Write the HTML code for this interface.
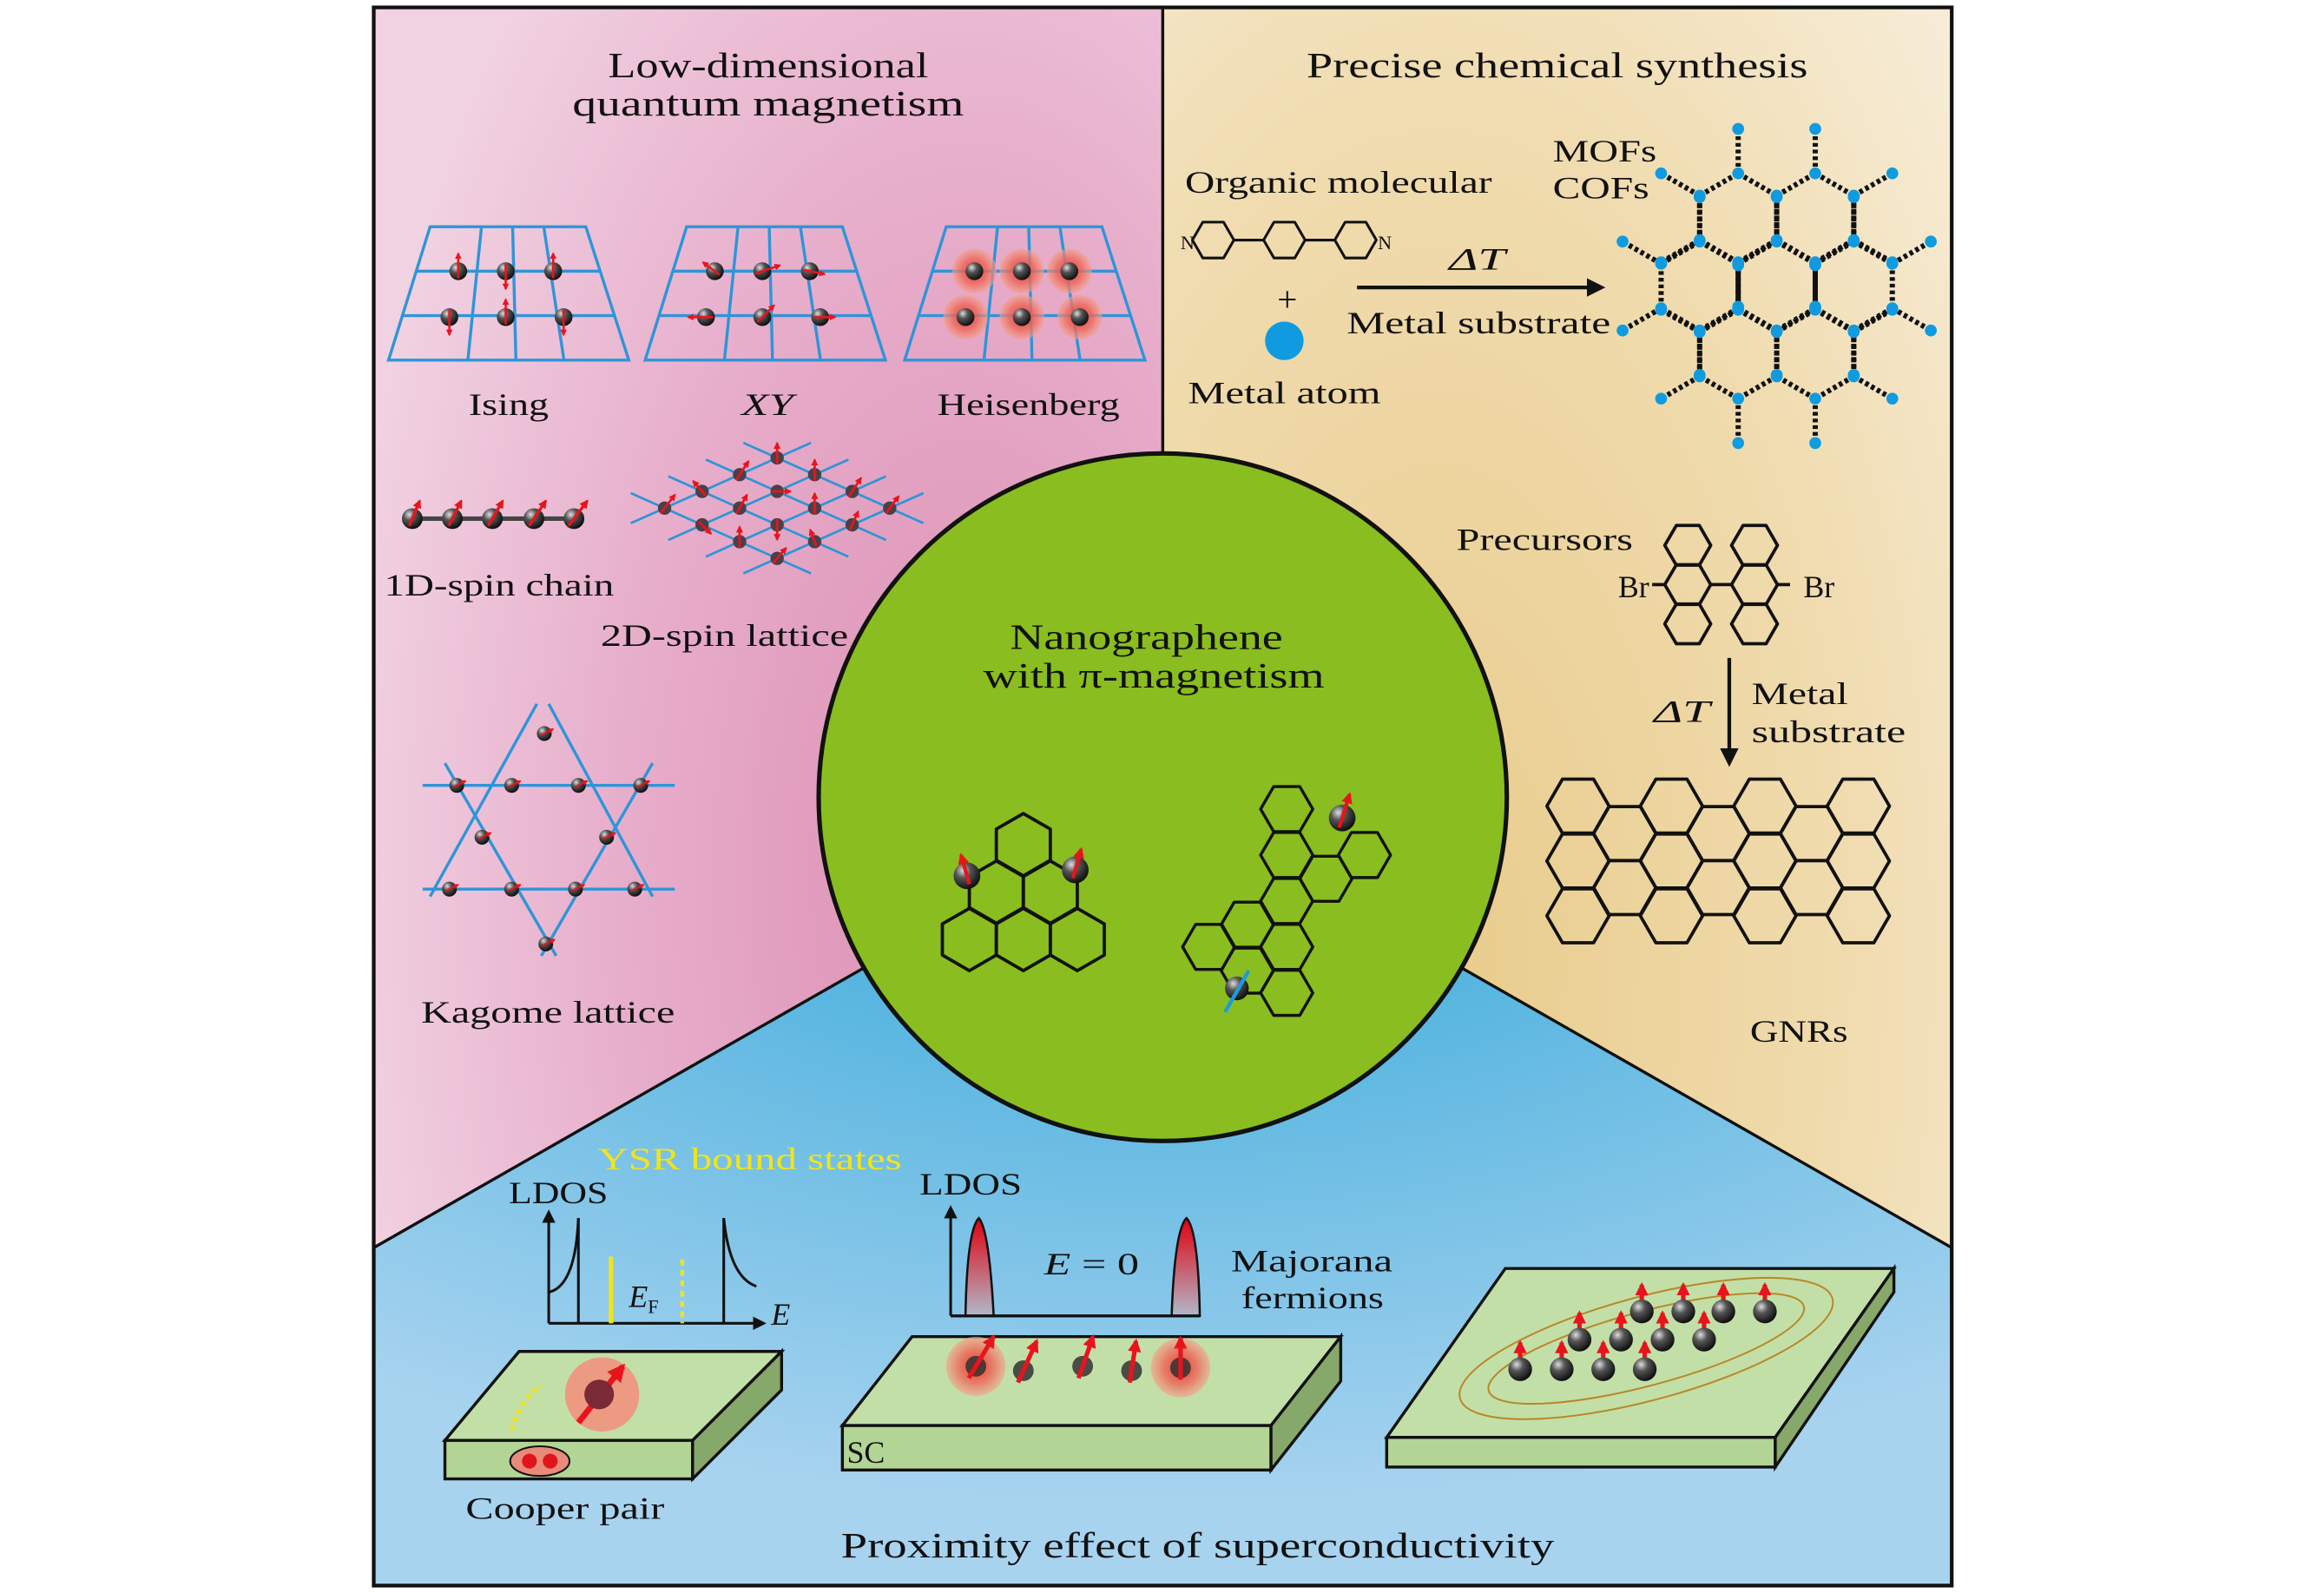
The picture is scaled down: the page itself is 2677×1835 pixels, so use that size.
<!DOCTYPE html>
<html><head><meta charset="utf-8">
<style>
html,body{margin:0;padding:0;background:#fff;width:2677px;height:1835px;overflow:hidden}
svg{display:block}
text{font-family:"Liberation Serif","DejaVu Serif",serif;fill:#111}
</style></head>
<body>
<svg id="s" width="2677" height="1835" viewBox="0 0 1567 1075" preserveAspectRatio="none" xmlns="http://www.w3.org/2000/svg" font-family="Liberation Serif, serif">
<defs>
<radialGradient id="gp" cx="0.75" cy="0.55" r="0.8"><stop offset="0" stop-color="#dd8fb3"/><stop offset="0.55" stop-color="#e7aecb"/><stop offset="1" stop-color="#f1d2e2"/></radialGradient>
<radialGradient id="gb" cx="0.35" cy="0.6" r="0.9"><stop offset="0" stop-color="#e9cc8c"/><stop offset="0.6" stop-color="#f0dcb0"/><stop offset="1" stop-color="#f7eedb"/></radialGradient>
<radialGradient id="gl" cx="0.5" cy="0" r="0.9"><stop offset="0" stop-color="#2aa7d8"/><stop offset="0.5" stop-color="#6cbde4"/><stop offset="1" stop-color="#a8d3ef"/></radialGradient>
<radialGradient id="ball" cx="0.35" cy="0.3" r="0.7"><stop offset="0" stop-color="#ddd"/><stop offset="0.4" stop-color="#555"/><stop offset="1" stop-color="#111"/></radialGradient>
<radialGradient id="glow"><stop offset="0" stop-color="#e33"/><stop offset="0.6" stop-color="#ee6a5a" stop-opacity="0.8"/><stop offset="1" stop-color="#f3a08c" stop-opacity="0.6"/></radialGradient>
<linearGradient id="peak" x1="0" y1="0" x2="0" y2="1"><stop offset="0" stop-color="#e00010"/><stop offset="1" stop-color="#b0b8c8"/></linearGradient>
<marker id="ar" viewBox="0 0 10 10" refX="8" refY="5" markerWidth="3" markerHeight="3" orient="auto"><path d="M0,0L10,5L0,10z" fill="#e8141c"/></marker>
<marker id="ak" viewBox="0 0 10 10" refX="8" refY="5" markerWidth="5" markerHeight="5" orient="auto"><path d="M0,0L10,5L0,10z" fill="#111"/></marker>
</defs>
<rect x="252" y="5" width="532" height="1065" fill="url(#gp)"/>
<rect x="784" y="5" width="532" height="1065" fill="url(#gb)"/>
<polygon points="252,842 784,538 1316,842 1316,1070 252,1070" fill="url(#gl)"/>
<polyline points="252,842 784,538 1316,842" fill="none" stroke="#111" stroke-width="2"/>
<line x1="784" y1="5" x2="784" y2="320" stroke="#111" stroke-width="2"/>
<circle cx="784" cy="538" r="232" fill="#8abd1f" stroke="#111" stroke-width="3"/>
<rect x="252" y="5" width="1064" height="1065" fill="none" stroke="#111" stroke-width="2.5"/>
<g id="g"></g>
<g font-size="24">
<text x="410" y="52" textLength="216" lengthAdjust="spacingAndGlyphs">Low-dimensional</text>
<text x="386" y="78" textLength="264" lengthAdjust="spacingAndGlyphs">quantum magnetism</text>
<text x="881" y="52" textLength="338" lengthAdjust="spacingAndGlyphs">Precise chemical synthesis</text>
<text x="681" y="438" textLength="184" lengthAdjust="spacingAndGlyphs">Nanographene</text>
<text x="663" y="464" textLength="230" lengthAdjust="spacingAndGlyphs">with π-magnetism</text>
<text x="567" y="1051" textLength="481" lengthAdjust="spacingAndGlyphs">Proximity effect of superconductivity</text>
</g>
<g font-size="21">
<text x="316" y="280" textLength="54" lengthAdjust="spacingAndGlyphs">Ising</text>
<text x="500" y="280" textLength="35" lengthAdjust="spacingAndGlyphs" font-style="italic">XY</text>
<text x="632" y="280" textLength="123" lengthAdjust="spacingAndGlyphs">Heisenberg</text>
<text x="259" y="402" textLength="155" lengthAdjust="spacingAndGlyphs">1D-spin chain</text>
<text x="405" y="436" textLength="167" lengthAdjust="spacingAndGlyphs">2D-spin lattice</text>
<text x="284" y="690" textLength="171" lengthAdjust="spacingAndGlyphs">Kagome lattice</text>
<text x="799" y="130" textLength="207" lengthAdjust="spacingAndGlyphs">Organic molecular</text>
<text x="801" y="272" textLength="130" lengthAdjust="spacingAndGlyphs">Metal atom</text>
<text x="868" y="210" text-anchor="middle" font-size="24">+</text>
<text x="977" y="182" textLength="38" lengthAdjust="spacingAndGlyphs" font-style="italic">ΔT</text>
<text x="908" y="225" textLength="178" lengthAdjust="spacingAndGlyphs">Metal substrate</text>
<text x="1047" y="109" textLength="70" lengthAdjust="spacingAndGlyphs">MOFs</text>
<text x="1047" y="134" textLength="65" lengthAdjust="spacingAndGlyphs">COFs</text>
<text x="982" y="371" textLength="119" lengthAdjust="spacingAndGlyphs">Precursors</text>
<text x="1091" y="403">Br</text>
<text x="1216" y="403">Br</text>
<text x="1115" y="487" textLength="38" lengthAdjust="spacingAndGlyphs" font-style="italic">ΔT</text>
<text x="1181" y="475" textLength="65" lengthAdjust="spacingAndGlyphs">Metal</text>
<text x="1181" y="501" textLength="104" lengthAdjust="spacingAndGlyphs">substrate</text>
<text x="1180" y="703" textLength="66" lengthAdjust="spacingAndGlyphs">GNRs</text>
<text x="403" y="789" textLength="205" lengthAdjust="spacingAndGlyphs" style="fill:#f2e41a">YSR bound states</text>
<text x="343" y="812" textLength="67" lengthAdjust="spacingAndGlyphs">LDOS</text>
<text x="620" y="806" textLength="69" lengthAdjust="spacingAndGlyphs">LDOS</text>
<text x="704" y="860" textLength="64" lengthAdjust="spacingAndGlyphs"><tspan font-style="italic">E</tspan> = 0</text>
<text x="830" y="858" textLength="109" lengthAdjust="spacingAndGlyphs">Majorana</text>
<text x="837" y="883" textLength="96" lengthAdjust="spacingAndGlyphs">fermions</text>
<text x="520" y="894" font-style="italic">E</text>
<text x="424" y="882" font-style="italic">E<tspan font-size="13" font-style="normal" dy="4">F</tspan></text>
<text x="314" y="1025" textLength="134" lengthAdjust="spacingAndGlyphs">Cooper pair</text>
<text x="571" y="987">SC</text>
</g>
</svg>
<script>
const g=document.getElementById('g');let h='';
function ball(x,y,r){h+=`<circle cx="${x}" cy="${y}" r="${r||6}" fill="url(#ball)"/>`;}
function arr(x,y,dx,dy,w){h+=`<line x1="${x-dx*0.4}" y1="${y-dy*0.4}" x2="${x+dx}" y2="${y+dy}" stroke="#e8141c" stroke-width="${w||2}" marker-end="url(#ar)"/>`;}
function hexP(cx,cy,r,rot){let s='';for(let i=0;i<6;i++){const a=(60*i+rot)*Math.PI/180;s+=(cx+r*Math.cos(a)).toFixed(1)+','+(cy+r*Math.sin(a)).toFixed(1)+' '}return s;}
function hex(cx,cy,r,rot,sw,st){h+=`<polygon points="${hexP(cx,cy,r,rot)}" fill="none" stroke="${st||'#111'}" stroke-width="${sw||2}" stroke-linejoin="round"/>`;}
// grids
[0,173,348].forEach((o,k)=>{
 const tl=290+o,tr=395+o,bl=262+o,br=424+o;
 h+=`<polygon points="${tl},153 ${tr},153 ${br},243 ${bl},243" fill="none" stroke="#2e95d8" stroke-width="2"/>`;
 [183,213].forEach(y=>{const t=(y-153)/90;h+=`<line x1="${tl+(bl-tl)*t}" y1="${y}" x2="${tr+(br-tr)*t}" y2="${y}" stroke="#2e95d8" stroke-width="2"/>`});
 [0.33,0.53,0.73].forEach(f=>{h+=`<line x1="${tl+(tr-tl)*f}" y1="153" x2="${bl+(br-bl)*f}" y2="243" stroke="#2e95d8" stroke-width="2"/>`});
 const pts=[[309+o,183],[341+o,183],[373+o,183],[303+o,214],[341+o,214],[380+o,214]];
 pts.forEach((p,i)=>{
  if(k==2){h+=`<circle cx="${p[0]}" cy="${p[1]}" r="15" fill="url(#glow)"/>`;}
  ball(p[0],p[1],6);
  if(k==0)arr(p[0],p[1],0,(i%2?12:-12)*1,1.5);
  if(k==1)arr(p[0],p[1],[-8,12,10,-12,8,10][i],[-6,-4,2,0,-8,0][i],1.5);
 });
});
// 1D chain
h+=`<line x1="278" y1="350" x2="388" y2="350" stroke="#444" stroke-width="3"/>`;
[278,305,332,360,387].forEach((x,i)=>{ball(x,350,7);arr(x,350,5+i,-12,2)});
// 2D rhombic lattice
{const T=[524,309],a=[25.3,11.3],b=[-25.3,11.3];
 for(let i=0;i<4;i++){const s=[T[0]+i*a[0]-0.9*b[0],T[1]+i*a[1]-0.9*b[1]],e=[T[0]+i*a[0]+3.9*b[0],T[1]+i*a[1]+3.9*b[1]];h+=`<line x1="${s[0]}" y1="${s[1]}" x2="${e[0]}" y2="${e[1]}" stroke="#2e95d8" stroke-width="1.6"/>`;}
 for(let j=0;j<4;j++){const s=[T[0]+j*b[0]-0.9*a[0],T[1]+j*b[1]-0.9*a[1]],e=[T[0]+j*b[0]+3.9*a[0],T[1]+j*b[1]+3.9*a[1]];h+=`<line x1="${s[0]}" y1="${s[1]}" x2="${e[0]}" y2="${e[1]}" stroke="#2e95d8" stroke-width="1.6"/>`;}
 const dirs=[[0,-10],[6,-9],[-6,-7],[7,-9],[0,-10],[9,0],[5,-9],[6,6],[6,-9],[0,-10],[0,10],[0,-10],[6,-8],[4,-9],[-3,-8],[6,-7]];let k=0;
 for(let i=0;i<4;i++)for(let j=0;j<4;j++){const x=T[0]+i*a[0]+j*b[0],y=T[1]+i*a[1]+j*b[1];h+=`<circle cx="${x}" cy="${y}" r="4.5" fill="#4a4048"/>`;const d=dirs[k++];arr(x,y,d[0],d[1],1.6);}
}
// kagome
const K='#2e95d8';
h+=`<g stroke="${K}" stroke-width="2"><line x1="285" y1="530" x2="455" y2="530"/><line x1="285" y1="600" x2="455" y2="600"/>
<line x1="300" y1="515" x2="375" y2="645"/><line x1="370" y1="475" x2="440" y2="605"/><line x1="362" y1="475" x2="290" y2="605"/><line x1="440" y1="515" x2="365" y2="645"/></g>`;
[[367,495],[308,530],[345,530],[390,530],[432,530],[325,565],[409,565],[303,600],[345,600],[388,600],[428,600],[368,637]].forEach(p=>{ball(p[0],p[1],5);arr(p[0],p[1],6,-3,1.2)});
// bipyridine
[818,866,914].forEach(x=>hex(x,162,14,0,1.8));
h+=`<g stroke="#111" stroke-width="1.8"><line x1="832" y1="162" x2="852" y2="162"/><line x1="880" y1="162" x2="900" y2="162"/></g>`;
h+=`<text x="796" y="168" font-size="13">N</text><text x="929" y="168" font-size="13">N</text>`;
h+=`<circle cx="866" cy="230" r="13" fill="#109be0"/>`;
h+=`<line x1="915" y1="194" x2="1080" y2="194" stroke="#111" stroke-width="2.5" marker-end="url(#ak)"/>`;
// MOF
{const R=30,w=R*Math.sqrt(3);const cents=[[1172,147],[1172+w,147],[1172-w/2,193],[1172+w/2,193],[1172+1.5*w,193],[1172,239],[1172+w,239]];
 const vmap=new Map();const emap=new Map();
 const key=(x,y)=>Math.round(x)+','+Math.round(y);
 cents.forEach(c=>{const vs=[];for(let i=0;i<6;i++){const a=(60*i+30)*Math.PI/180;vs.push([c[0]+R*Math.cos(a),c[1]+R*Math.sin(a)]);}
  for(let i=0;i<6;i++){const p=vs[i],q=vs[(i+1)%6];const kp=key(...p),kq=key(...q);const ek=[kp,kq].sort().join('|');
   if(!emap.has(ek)){emap.set(ek,[p,q]);[[kp,p,q],[kq,q,p]].forEach(([k,v,o])=>{if(!vmap.has(k))vmap.set(k,{v,n:[]});vmap.get(k).n.push(o);});}}});
 const ch=(x1,y1,x2,y2)=>{h+=`<line x1="${x1}" y1="${y1}" x2="${x2}" y2="${y2}" stroke="#111" stroke-width="3.5" stroke-dasharray="2.5 2"/>`;};
 emap.forEach(([p,q])=>ch(p[0],p[1],q[0],q[1]));
 const dots=[];
 vmap.forEach(({v,n})=>{dots.push(v);if(n.length==2){let dx=0,dy=0;n.forEach(o=>{const l=Math.hypot(o[0]-v[0],o[1]-v[1]);dx+=(o[0]-v[0])/l;dy+=(o[1]-v[1])/l;});const l=Math.hypot(dx,dy);const e=[v[0]-dx/l*R,v[1]-dy/l*R];ch(v[0],v[1],e[0],e[1]);dots.push(e);}});
 dots.forEach(d=>{h+=`<circle cx="${d[0]}" cy="${d[1]}" r="4" fill="#109be0"/>`});
}
// precursor
[[1138,368],[1138,394.5],[1138,421],[1183,368],[1183,394.5],[1183,421]].forEach(c=>hex(c[0],c[1],15.5,0,2.2));
h+=`<g stroke="#111" stroke-width="2.2"><line x1="1153" y1="394.5" x2="1168" y2="394.5"/><line x1="1114" y1="394.5" x2="1122" y2="394.5"/><line x1="1199" y1="394.5" x2="1207" y2="394.5"/></g>`;
h+=`<line x1="1166" y1="444" x2="1166" y2="515" stroke="#111" stroke-width="2.5" marker-end="url(#ak)"/>`;
// GNR
for(let c=0;c<7;c++){const x=1064+c*31.5;const ys=c%2?[562.5,599]:[544,581,618];ys.forEach(y=>hex(x,y,21,0,2.2));}
// nanographene triangle
const r3=21,w3=r3*Math.sqrt(3);
[[690,570],[690-w3/2,602],[690+w3/2,602],[690-w3,634],[690,634],[690+w3,634]].forEach(c=>hex(c[0],c[1],r3,30,2.2));
ball(652,591,9);arr(652,591,-4,-14,2.5);ball(725,587,9);arr(725,587,4,-14,2.5);
// nanographene 2
[[867.6,546],[867.6,577],[894,593],[920,577],[867.6,608],[841,624],[867.6,639],[815,639],[841,655],[867.6,670]].forEach(c=>hex(c[0],c[1],17.6,0,2));
ball(905,552,9);arr(905,552,5,-16,2.5);ball(834,667,8);h+=`<line x1="826" y1="683" x2="842" y2="655" stroke="#1b9be0" stroke-width="2.5"/>`;
// LDOS 1
h+=`<g stroke="#111" stroke-width="1.8" fill="none"><line x1="370" y1="893" x2="370" y2="818" marker-end="url(#ak)"/><line x1="370" y1="893" x2="515" y2="893" marker-end="url(#ak)"/>
<path d="M370,872 Q388,868 390,822"/><line x1="390" y1="822" x2="390" y2="893"/><path d="M488,822 Q492,862 510,868"/><line x1="488" y1="822" x2="488" y2="893"/></g>
<line x1="412" y1="848" x2="412" y2="893" stroke="#f2e41a" stroke-width="3"/><line x1="460" y1="850" x2="460" y2="893" stroke="#f2e41a" stroke-width="2.5" stroke-dasharray="4 3"/>`;
// LDOS 2
h+=`<path d="M651,888 Q652,830 660,822 Q667,830 670,888Z" fill="url(#peak)" stroke="#111" stroke-width="1.5"/><path d="M790,888 Q792,830 800,822 Q808,830 809,888Z" fill="url(#peak)" stroke="#111" stroke-width="1.5"/>
<line x1="641" y1="888" x2="641" y2="815" stroke="#111" stroke-width="1.8" marker-end="url(#ak)"/><line x1="641" y1="888" x2="809" y2="888" stroke="#111" stroke-width="2"/>`;
// slab 1
h+=`<polygon points="300,972 350,912 527,912 467,972" fill="#c3dfa8" stroke="#111" stroke-width="2"/><rect x="300" y="972" width="167" height="26" fill="#b2d494" stroke="#111" stroke-width="2"/><polygon points="467,972 527,912 527,938 467,998" fill="#86a86a" stroke="#111" stroke-width="2"/>
<circle cx="406" cy="941" r="25" fill="#ec9a82" /><line x1="390" y1="960" x2="420" y2="922" stroke="#e8141c" stroke-width="4" marker-end="url(#ar)"/><circle cx="404" cy="941" r="10" fill="#7a2a35"/>
<ellipse cx="364" cy="986" rx="20" ry="10" fill="#e88b7a" stroke="#111" stroke-width="1.2"/><circle cx="357" cy="986" r="5" fill="#e0141c"/><circle cx="371" cy="986" r="5" fill="#e0141c"/>
<path d="M345,965 Q350,945 365,935" stroke="#f2e41a" stroke-width="3" stroke-dasharray="3 3" fill="none"/>`;
// slab 2
h+=`<polygon points="568,962 615,902 904,902 857,962" fill="#c3dfa8" stroke="#111" stroke-width="2"/><rect x="568" y="962" width="289" height="30" fill="#b2d494" stroke="#111" stroke-width="2"/><polygon points="857,962 904,902 904,932 857,992" fill="#86a86a" stroke="#111" stroke-width="2"/>`;
[[658,922,1],[690,925,0],[730,922,0],[763,925,0],[796,923,1]].forEach((p,i)=>{if(p[2])h+=`<circle cx="${p[0]}" cy="${p[1]}" r="20" fill="url(#glow)"/>`;h+=`<circle cx="${p[0]}" cy="${p[1]}" r="7" fill="#333" opacity="0.85"/>`;arr(p[0],p[1],[12,9,7,3,0][i],-20,3)});
// slab 3
h+=`<polygon points="935,970 1015,856 1277,856 1197,970" fill="#c3dfa8" stroke="#111" stroke-width="2"/><rect x="935" y="970" width="262" height="20" fill="#b2d494" stroke="#111" stroke-width="2"/><polygon points="1197,970 1277,856 1277,872 1197,990" fill="#86a86a" stroke="#111" stroke-width="2"/>
<ellipse cx="1110" cy="910" rx="130" ry="35" fill="none" stroke="#b88a2a" stroke-width="1.2" transform="rotate(-15 1110 910)"/><ellipse cx="1110" cy="910" rx="110" ry="25" fill="none" stroke="#b88a2a" stroke-width="1.2" transform="rotate(-15 1110 910)"/>`;
[[1107,885],[1135,885],[1162,885],[1190,885],[1065,904],[1093,904],[1121,904],[1149,904],[1025,924],[1053,924],[1081,924],[1109,924]].forEach(p=>{arr(p[0],p[1]-4,0,-14,3);ball(p[0],p[1],8)});
g.innerHTML=h;
</script>
</body></html>
